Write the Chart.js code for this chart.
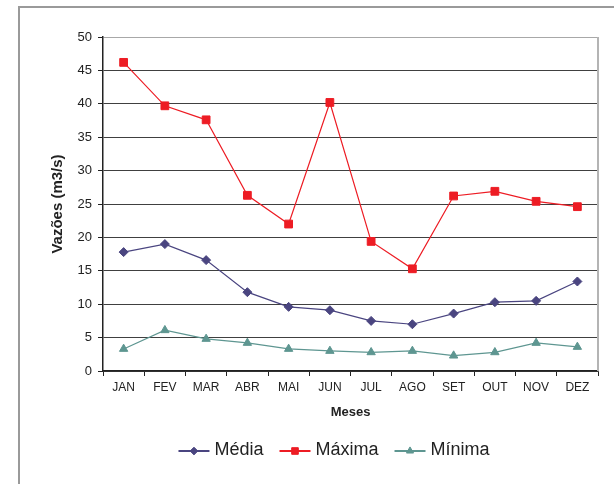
<!DOCTYPE html>
<html>
<head>
<meta charset="utf-8">
<title>Vazões mensais</title>
<script src="https://cdn.jsdelivr.net/npm/chart.js@4.4.0/dist/chart.umd.min.js"></script>
<style>
  html, body { margin: 0; padding: 0; background: #ffffff; }
  #wrap { width: 614px; height: 484px; position: relative; }
</style>
</head>
<body>
<div id="wrap"><canvas id="chart" width="614" height="484"></canvas></div>
<script>
// Monthly flow rates (m3/s)
const months = ['JAN', 'FEV', 'MAR', 'ABR', 'MAI', 'JUN', 'JUL', 'AGO', 'SET', 'OUT', 'NOV', 'DEZ'];
const media  = [17.8, 19.0, 16.6, 11.8, 9.6, 9.1, 7.5, 7.0, 8.6, 10.3, 10.5, 13.4];
const maxima = [46.2, 39.7, 37.6, 26.3, 22.0, 40.2, 19.4, 15.3, 26.2, 26.9, 25.4, 24.6];
const minima = [3.3, 6.1, 4.8, 4.2, 3.3, 3.0, 2.8, 3.0, 2.3, 2.8, 4.2, 3.6];
const seriesNames = ['Média', 'Máxima', 'Mínima'];
const yMin = 0, yMax = 50, yStep = 5;

const FONT = "'Liberation Sans', Arial, Helvetica, sans-serif";
const INK = '#222222';
const GRID = '#404040';
const FRAME = '#9a9a9a';

Chart.defaults.font.family = FONT;
Chart.defaults.color = INK;

// Outer frame, plot-area right edge and a bottom legend with line+marker swatches
const decorations = {
  id: 'decorations',
  beforeDraw(chart) {
    const ctx = chart.ctx;
    ctx.save();
    ctx.fillStyle = '#ffffff';
    ctx.fillRect(0, 0, chart.width, chart.height);
    ctx.strokeStyle = FRAME;
    ctx.lineWidth = 2;
    ctx.beginPath();
    ctx.moveTo(19, chart.height);
    ctx.lineTo(19, 7);
    ctx.lineTo(chart.width, 7);
    ctx.stroke();
    ctx.restore();
  },
  beforeDatasetsDraw(chart) {
    const {ctx, chartArea} = chart;
    ctx.save();
    ctx.strokeStyle = '#b4b4b4';
    ctx.lineWidth = 2;
    ctx.beginPath();
    ctx.moveTo(chartArea.right, chartArea.top);
    ctx.lineTo(chartArea.right, chartArea.bottom);
    ctx.stroke();
    ctx.restore();
  },
  afterDraw(chart, args, opts) {
    const ctx = chart.ctx;
    ctx.save();
    ctx.font = opts.font;
    const items = chart.data.datasets.map(ds => ({ds, w: ctx.measureText(ds.label).width}));
    const total = items.reduce((s, it) => s + opts.lineLen + opts.textGap + it.w, 0)
      + opts.itemGap * (items.length - 1);
    let x = opts.centerX - total / 2;
    const y = opts.y;
    items.forEach(it => {
      const ds = it.ds;
      ctx.strokeStyle = ds.borderColor;
      ctx.lineWidth = 2;
      ctx.beginPath();
      ctx.moveTo(x, y + 1);
      ctx.lineTo(x + opts.lineLen, y + 1);
      ctx.stroke();
      ctx.fillStyle = ds.pointBackgroundColor;
      ctx.strokeStyle = ds.pointBorderColor;
      ctx.lineWidth = 1;
      Chart.helpers.drawPoint(ctx, {
        pointStyle: ds.pointStyle,
        radius: ds.pointRadius * 0.85,
        rotation: 0,
        borderWidth: 1
      }, x + opts.lineLen / 2, y + 1);
      ctx.fillStyle = INK;
      ctx.textBaseline = 'middle';
      ctx.textAlign = 'left';
      ctx.fillText(ds.label, x + opts.lineLen + opts.textGap, y);
      x += opts.lineLen + opts.textGap + it.w + opts.itemGap;
    });
    ctx.restore();
  }
};

function series(label, data, color, style, radius) {
  return {
    label,
    data,
    borderColor: color,
    backgroundColor: color,
    pointBackgroundColor: color,
    pointBorderColor: color,
    pointStyle: style,
    pointRadius: radius,
    pointHoverRadius: radius,
    pointBorderWidth: 1,
    borderWidth: 1.2,
    tension: 0,
    fill: false
  };
}

new Chart(document.getElementById('chart'), {
  type: 'line',
  data: {
    labels: months,
    datasets: [
      series(seriesNames[0], media,  '#4a4580', 'rectRot', 4.5),
      series(seriesNames[1], maxima, '#ed1c24', 'rect', 5.5),
      series(seriesNames[2], minima, '#5e9691', 'triangle', 4.8)
    ]
  },
  options: {
    responsive: false,
    animation: false,
    layout: { padding: { left: 40, right: 16, top: 37, bottom: 60 } },
    plugins: {
      legend: { display: false },
      tooltip: { enabled: false },
      decorations: {
        font: "18px " + FONT,
        lineLen: 31,
        textGap: 5,
        itemGap: 16,
        centerX: 334,
        y: 450
      }
    },
    scales: {
      x: {
        offset: true,
        grid: {
          display: true,
          offset: true,
          drawOnChartArea: false,
          drawTicks: true,
          tickLength: 5,
          tickColor: INK,
          lineWidth: 1
        },
        border: { display: true, color: INK, width: 1.5 },
        ticks: {
          font: { size: 12 },
          color: INK,
          padding: 4,
          maxRotation: 0,
          autoSkip: false
        },
        title: {
          display: true,
          text: 'Meses',
          font: { size: 13, weight: 'bold' },
          color: INK,
          padding: { top: 0, bottom: 4 }
        },
        afterFit(scale) { scale.height = 53; }
      },
      y: {
        min: yMin,
        max: yMax,
        grid: {
          color: ctx => (ctx.tick && ctx.tick.value === yMax) ? '#a8a8a8' : GRID,
          lineWidth: 1,
          drawTicks: true,
          tickLength: 5,
          tickColor: INK
        },
        border: { display: true, color: INK, width: 1.5 },
        ticks: {
          stepSize: yStep,
          font: { size: 13 },
          color: INK,
          padding: 6
        },
        title: {
          display: true,
          text: 'Vazões (m3/s)',
          font: { size: 15, weight: 'bold' },
          color: INK,
          padding: { top: 9, bottom: 0 }
        },
        afterFit(scale) { scale.width = 63; }
      }
    }
  },
  plugins: [decorations]
});
</script>
</body>
</html>
